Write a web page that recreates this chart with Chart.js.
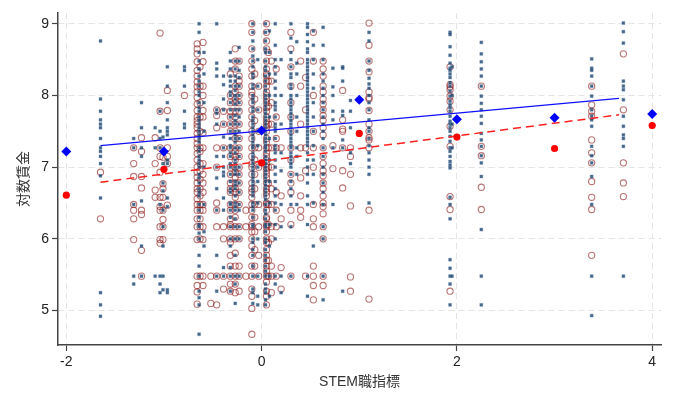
<!DOCTYPE html>
<html>
<head>
<meta charset="utf-8">
<script src="https://cdn.jsdelivr.net/npm/chart.js@4"></script>
<style>
  body { margin: 0; background: #fff; }
  #wrap { width: 680px; height: 400px; }
</style>
</head>
<body>
<div id="wrap"><canvas id="stemChart" width="680" height="400"></canvas></div>
<script>
// ---- data ----
const xTicks = [-2, 0, 2, 4];
const yTicks = [5, 6, 7, 8, 9];

// binned means
const meanX = [-2, -1, 0, 1, 2, 3, 4];
const blueMean = [7.22, 7.22, 7.51, 7.94, 7.67, 7.69, 7.74];
const redMean = [6.61, 6.97, 7.06, 7.47, 7.42, 7.26, 7.58];

// fitted lines (end points)
const fitX = [-1.65, 3.66];
const blueFitY = [7.30, 7.96];
const redFitY = [6.79, 7.73];

// individual observations, one column per STEM value: [x, [y...]]
const blueCols = [
    [-1.65, [8.76, 7.95, 7.78, 7.66, 7.6, 7.55, 7.4, 7.27, 7.22, 7.15, 7.05, 6.88, 6.57, 5.25, 5.08, 4.92]],
    [-1.31, [7.4, 7.27, 6.48, 5.48, 5.37]],
    [-1.23, [7.9, 7.55, 7.27, 7.15, 6.53, 5.48, 5.9]],
    [-1.09, [7.55, 7.27, 5.48]],
    [-1.04, [7.78, 7.5, 7.4, 7.27, 6.48, 5.48, 5.37, 5.25]],
    [-1.01, [7.42, 7.22, 7.05, 6.78, 6.67, 6.4, 6.17, 5.9, 5.48, 5.29]],
    [-0.965, [8.4, 8.13, 7.9, 7.66, 7.55, 7.5, 7.45, 7.1, 7.05, 6.57, 6.45, 5.29, 5.25]],
    [-0.79, [8.4, 8.35, 8.13, 7.78, 7.6, 7.55]],
    [-0.64, [9.0, 8.88, 8.6, 8.48, 8.37, 8.27, 8.2, 8.13, 8.05, 8.0, 7.9, 7.83, 7.78, 7.7, 7.65, 7.6, 7.55, 7.5, 7.45, 7.4, 7.35, 7.27, 7.22, 7.15, 7.1, 7.05, 7.0, 6.9, 6.85, 6.78, 6.7, 6.65, 6.6, 6.48, 6.4, 6.3, 6.2, 6.17, 6.08, 6.0, 5.77, 5.62, 5.48, 5.27, 5.18, 5.08, 4.67]],
    [-0.59, [8.6, 8.3, 7.9, 7.5, 7.0, 6.48, 6.1, 5.9]],
    [-0.46, [9.0, 8.45, 8.37, 8.27, 7.8, 7.75, 7.6, 7.15, 7.0, 6.85, 6.7, 6.4, 5.77, 5.48, 5.27]],
    [-0.39, [8.27, 8.15, 7.95, 7.8, 7.6, 7.42, 7.27, 7.15, 7.0, 6.93, 6.88, 6.57, 6.4, 5.6, 5.48]],
    [-0.32, [8.6, 8.48, 8.37, 8.27, 8.2, 8.13, 8.05, 8.0, 7.9, 7.8, 7.7, 7.6, 7.5, 7.4, 7.3, 7.27, 7.2, 7.15, 7.05, 7.0, 6.9, 6.8, 6.7, 6.65, 6.5, 6.48, 6.4, 6.3, 6.17, 6.0, 5.9, 5.6, 5.48, 5.27]],
    [-0.27, [8.48, 8.37, 8.27, 8.2, 8.13, 8.07, 8.0, 7.95, 7.88, 7.8, 7.72, 7.65, 7.6, 7.5, 7.45, 7.4, 7.35, 7.27, 7.2, 7.1, 7.05, 7.0, 6.95, 6.9, 6.8, 6.75, 6.7, 6.6, 6.5, 6.45, 6.4, 6.28, 6.17, 6.0, 5.77, 5.48, 5.37, 5.1]],
    [-0.23, [8.67, 8.48, 8.35, 8.25, 8.13, 8.0, 7.9, 7.8, 7.7, 7.6, 7.5, 7.4, 7.27, 7.15, 7.0, 6.9, 6.78, 6.65, 6.48, 6.4, 6.17, 6.0, 5.48]],
    [-0.09, [9.0, 8.88, 8.76, 8.65, 8.55, 8.48, 8.4, 8.3, 8.25, 8.15, 8.1, 8.0, 7.95, 7.9, 7.83, 7.78, 7.7, 7.65, 7.6, 7.55, 7.5, 7.45, 7.4, 7.35, 7.3, 7.27, 7.2, 7.15, 7.1, 7.05, 7.0, 6.95, 6.9, 6.85, 6.8, 6.75, 6.7, 6.65, 6.6, 6.5, 6.45, 6.4, 6.3, 6.2, 6.17, 6.0, 5.95, 5.85, 5.77, 5.62, 5.48, 5.3, 5.25, 5.1]],
    [-0.04, [8.5, 8.13, 7.8, 7.5, 7.3, 7.0, 6.8, 6.5, 6.0, 5.48, 5.2, 5.08]],
    [0.04, [9.0, 8.88, 8.76, 8.65, 8.6, 8.48, 8.4, 8.35, 8.27, 8.2, 8.13, 8.07, 8.0, 7.95, 7.9, 7.85, 7.8, 7.75, 7.7, 7.65, 7.6, 7.55, 7.5, 7.45, 7.4, 7.35, 7.3, 7.27, 7.22, 7.15, 7.1, 7.05, 7.0, 6.95, 6.9, 6.85, 6.8, 6.75, 6.7, 6.65, 6.6, 6.55, 6.48, 6.4, 6.35, 6.28, 6.2, 6.17, 6.1, 6.0, 5.95, 5.85, 5.77, 5.7, 5.62, 5.55, 5.48, 5.37, 5.3, 5.25, 5.15, 5.08]],
    [0.08, [8.9, 8.6, 8.3, 8.0, 7.7, 7.4, 7.1, 6.8, 6.5, 6.2, 5.9, 5.48, 5.2]],
    [0.14, [9.0, 8.7, 8.5, 8.4, 8.3, 8.2, 8.1, 8.0, 7.9, 7.85, 7.8, 7.7, 7.6, 7.55, 7.5, 7.4, 7.3, 7.25, 7.2, 7.1, 7.0, 6.9, 6.8, 6.7, 6.6, 6.5, 6.4, 6.2, 6.0, 5.48, 5.37]],
    [0.2, [8.5, 8.0, 7.6, 7.2, 6.95, 6.48, 6.17, 5.48, 5.25]],
    [0.3, [9.0, 8.8, 8.6, 8.5, 8.4, 8.3, 8.25, 8.15, 8.1, 8.0, 7.95, 7.9, 7.85, 7.8, 7.75, 7.7, 7.65, 7.6, 7.55, 7.5, 7.45, 7.4, 7.35, 7.3, 7.27, 7.2, 7.15, 7.1, 7.05, 7.0, 6.9, 6.8, 6.7, 6.6, 6.48, 6.17, 5.48]],
    [0.36, [8.75, 8.45, 8.3, 8.0, 7.7, 7.5, 7.27, 7.15, 6.9, 6.48]],
    [0.47, [9.0, 8.95, 8.85, 8.75, 8.65, 8.6, 8.5, 8.45, 8.4, 8.35, 8.3, 8.25, 8.2, 8.15, 8.1, 8.05, 8.0, 7.95, 7.9, 7.85, 7.8, 7.75, 7.7, 7.65, 7.6, 7.55, 7.5, 7.45, 7.4, 7.35, 7.3, 7.2, 7.1, 7.0, 6.9, 6.78, 6.6, 6.48, 6.2, 5.48, 5.2]],
    [0.53, [8.9, 8.7, 8.5, 8.3, 8.1, 7.9, 7.7, 7.5, 7.3, 7.1, 6.9, 6.5, 5.9]],
    [0.63, [8.95, 8.7, 8.5, 8.3, 8.2, 8.1, 8.0, 7.9, 7.8, 7.7, 7.6, 7.5, 7.4, 7.27, 7.15, 7.0, 6.9, 6.78, 6.65, 6.48, 6.17, 6.0, 5.48, 5.15]],
    [0.73, [8.38, 8.12, 8.0, 7.78, 7.66, 7.27, 6.48]],
    [0.83, [8.4, 8.38, 8.2, 7.78, 7.72, 7.38, 7.27, 5.27]],
    [0.91, [7.93, 7.78, 7.55, 7.2, 7.05]],
    [1.1, [8.88, 8.76, 8.48, 8.35, 8.24, 8.16, 8.1, 8.0, 7.9, 7.8, 7.66, 7.55, 7.5, 7.4, 7.3, 7.2, 7.1, 7.0, 6.9, 6.5]],
    [1.93, [8.88, 8.85, 8.68, 8.56, 8.45, 8.38, 8.35, 8.3, 8.25, 8.18, 8.13, 8.06, 7.99, 7.92, 7.87, 7.83, 7.78, 7.71, 7.64, 7.6, 7.55, 7.5, 7.43, 7.36, 7.27, 7.22, 7.15, 7.08, 7.03, 6.99, 6.58, 6.48, 6.28, 5.71, 5.59, 5.48, 5.37, 5.08]],
    [1.95, [8.4, 8.0, 7.6, 7.27, 5.48]],
    [2.25, [8.74, 8.58, 8.47, 8.37, 8.27, 8.13, 7.99, 7.89, 7.8, 7.71, 7.61, 7.47, 7.38, 7.29, 7.16, 7.06, 6.87, 6.13, 5.48, 5.08]],
    [3.38, [8.51, 8.38, 8.35, 8.27, 8.13, 7.99, 7.8, 7.71, 7.66, 7.57, 7.29, 7.16, 7.06, 6.87, 6.48, 5.48, 4.93]],
    [3.705, [9.01, 8.89, 8.73, 8.2, 8.13, 8.08, 7.94, 7.71, 7.57, 7.45, 7.4, 7.29, 5.48]]
];

const redCols = [
    [-1.65, [6.93, 6.28]],
    [-1.31, [7.27, 7.05, 6.87, 6.48, 6.4, 6.28, 5.99]],
    [-1.23, [7.41, 7.22, 6.87, 6.71, 6.4, 6.34, 5.84, 5.48]],
    [-1.09, [7.41, 7.05, 6.68, 6.58]],
    [-1.04, [8.87, 7.78, 7.27, 7.15, 6.93, 6.58, 6.45, 6.4, 6.17, 5.99, 5.94]],
    [-1.01, [7.14, 6.77, 6.7, 6.58, 6.4, 6.27, 6.17, 5.99]],
    [-0.965, [8.07, 7.79, 7.27, 7.15, 7.05, 6.47]],
    [-0.79, [8.0]],
    [-0.66, [8.72, 8.65, 8.58, 8.47, 8.35, 8.27, 8.19, 8.12, 8.05, 7.97, 7.88, 7.79, 7.7, 7.65, 7.6, 7.55, 7.47, 7.4, 7.33, 7.27, 7.19, 7.1, 7.0, 6.93, 6.86, 6.78, 6.7, 6.65, 6.56, 6.48, 6.4, 6.28, 6.17, 5.99, 5.48, 5.35, 5.26, 5.09]],
    [-0.63, [8.4, 8.13, 7.9, 7.7, 7.5, 7.27, 7.22, 7.05, 6.95, 6.83, 6.7, 6.6, 6.48, 6.4, 6.28, 6.17, 6.0, 5.48]],
    [-0.6, [8.74, 8.47, 8.13, 8.0, 7.79, 7.7, 7.48, 7.27, 7.05, 6.9, 6.78, 6.65, 6.48, 6.4, 6.17, 5.99, 5.48, 5.35]],
    [-0.52, [5.48, 5.1]],
    [-0.46, [7.8, 7.72, 7.55, 7.27, 7.0, 6.5, 6.4, 6.17, 5.48, 5.08]],
    [-0.39, [7.78, 7.6, 7.27, 6.17, 6.0, 5.48, 5.3]],
    [-0.32, [8.3, 8.0, 7.9, 7.78, 7.7, 7.6, 7.5, 7.27, 7.15, 7.0, 6.9, 6.78, 6.7, 6.65, 6.48, 6.4, 6.28, 6.2, 6.17, 6.0, 5.95, 5.77, 5.62, 5.48, 5.37, 5.27]],
    [-0.27, [8.65, 8.48, 8.37, 8.13, 8.05, 7.95, 7.9, 7.78, 7.7, 7.6, 7.5, 7.4, 7.27, 7.22, 7.15, 7.1, 7.0, 6.93, 6.86, 6.78, 6.7, 6.65, 6.58, 6.48, 6.4, 6.3, 6.17, 6.0, 5.8, 5.62, 5.48, 5.37, 5.25]],
    [-0.23, [8.48, 8.27, 8.2, 8.13, 8.0, 7.9, 7.78, 7.6, 7.4, 7.27, 7.15, 7.0, 6.9, 6.78, 6.65, 6.48, 6.17, 6.0, 5.62, 5.48, 5.27]],
    [-0.16, [6.4, 6.17, 5.48]],
    [-0.1, [9.0, 8.88, 8.65, 8.48, 8.37, 8.27, 8.13, 8.05, 8.0, 7.9, 7.8, 7.7, 7.6, 7.5, 7.4, 7.27, 7.15, 7.05, 7.0, 6.9, 6.78, 6.7, 6.65, 6.58, 6.48, 6.4, 6.3, 6.2, 6.17, 6.1, 6.0, 5.9, 5.77, 5.62, 5.48, 5.3, 5.2, 5.03, 4.67]],
    [-0.07, [8.3, 7.95, 7.65, 7.27, 7.1, 6.9, 6.7, 6.48, 6.3, 6.1, 5.85, 5.62]],
    [-0.03, [8.13, 7.8, 7.5, 7.27, 7.0, 6.48, 6.17, 5.77, 5.48]],
    [0.05, [9.0, 8.88, 8.76, 8.65, 8.48, 8.37, 8.3, 8.27, 8.2, 8.13, 8.05, 8.0, 7.95, 7.9, 7.83, 7.78, 7.7, 7.65, 7.6, 7.55, 7.5, 7.4, 7.35, 7.27, 7.2, 7.15, 7.1, 7.05, 7.0, 6.95, 6.9, 6.85, 6.78, 6.7, 6.65, 6.6, 6.5, 6.48, 6.4, 6.3, 6.28, 6.2, 6.17, 6.1, 6.0, 5.95, 5.85, 5.77, 5.7, 5.62, 5.55, 5.48, 5.4, 5.27, 5.2, 5.08]],
    [0.07, [8.6, 8.2, 7.85, 7.6, 7.27, 7.0, 6.78, 6.48, 6.2, 5.95, 5.7, 5.48]],
    [0.1, [8.48, 8.2, 7.9, 7.6, 7.27, 7.0, 6.7, 6.48, 6.17, 6.0, 5.62, 5.48, 5.25]],
    [0.15, [8.37, 7.7, 7.4, 7.27, 6.65, 6.4, 6.17, 5.48]],
    [0.2, [7.27, 6.6, 6.28, 5.6, 5.3]],
    [0.3, [8.88, 8.65, 8.4, 8.13, 7.9, 7.7, 7.5, 7.27, 7.1, 6.9, 6.78, 6.65, 6.4, 6.2, 5.48]],
    [0.4, [8.48, 8.13, 7.6, 7.27, 6.85, 6.6, 6.4, 6.3]],
    [0.45, [8.25, 7.8, 7.27, 6.95, 5.48]],
    [0.53, [8.88, 8.48, 8.0, 7.5, 7.27, 7.0, 6.48, 6.28, 6.17, 5.62, 5.48, 5.35, 5.15]],
    [0.63, [8.48, 8.37, 8.27, 8.13, 8.05, 7.95, 7.88, 7.8, 7.72, 7.65, 7.55, 7.45, 7.27, 7.15, 7.05, 6.95, 6.88, 6.78, 6.7, 6.6, 6.5, 6.45, 6.35, 6.17, 6.0, 5.48, 5.35]],
    [0.73, [7.3, 6.98]],
    [0.83, [8.07, 7.66, 7.53, 7.5, 7.27, 6.95, 6.71]],
    [0.91, [7.27, 7.15, 6.9, 6.46, 5.47, 5.27]],
    [1.1, [9.01, 8.7, 8.48, 8.33, 8.05, 7.97, 7.95, 7.79, 7.6, 7.5, 7.41, 7.38, 7.27, 6.4, 5.16]],
    [1.93, [8.4, 8.15, 8.12, 8.08, 7.99, 7.92, 7.8, 7.57, 7.29, 6.59, 6.41, 5.27]],
    [2.25, [8.13, 7.29, 7.16, 6.72, 6.41]],
    [3.38, [8.13, 7.87, 7.78, 7.71, 7.38, 7.2, 7.06, 6.8, 6.58, 6.41, 5.77]],
    [3.705, [8.58, 7.8, 7.06, 6.78, 6.59]]
];

const toPoints = cols => cols.flatMap(([x, ys]) => ys.map(y => ({ x: x, y: y })));
const zipXY = (xs, ys) => xs.map((x, i) => ({ x: x, y: ys[i] }));

const FONT = "'Liberation Sans', 'Noto Sans CJK JP', Arial, sans-serif";

const ctx = document.getElementById('stemChart').getContext('2d');
new Chart(ctx, {
    type: 'scatter',
    data: {
        datasets: [
            {
                label: 'obs2',
                data: toPoints(redCols),
                pointStyle: 'circle',
                pointRadius: 3.1,
                backgroundColor: 'rgba(0,0,0,0)',
                borderColor: 'rgba(140,25,25,0.6)',
                borderWidth: 1.1,
                order: 6
            },
            {
                label: 'obs1',
                data: toPoints(blueCols),
                pointStyle: 'rect',
                pointRadius: 2.1,
                backgroundColor: 'rgba(25,65,105,0.8)',
                borderColor: 'rgba(90,130,170,0.45)',
                borderWidth: 0.8,
                order: 5
            },
            {
                type: 'line',
                label: 'fit1',
                data: zipXY(fitX, blueFitY),
                borderColor: '#1010ff',
                borderWidth: 1.3,
                pointRadius: 0,
                fill: false,
                order: 4
            },
            {
                type: 'line',
                label: 'fit2',
                data: zipXY(fitX, redFitY),
                borderColor: '#ff2020',
                borderWidth: 1.5,
                borderDash: [8, 5],
                pointRadius: 0,
                fill: false,
                order: 3
            },
            {
                label: 'mean1',
                data: zipXY(meanX, blueMean),
                pointStyle: 'rectRot',
                pointRadius: 5,
                backgroundColor: '#0000ff',
                borderColor: '#0000ff',
                borderWidth: 0,
                order: 2
            },
            {
                label: 'mean2',
                data: zipXY(meanX, redMean),
                pointStyle: 'circle',
                pointRadius: 3.6,
                backgroundColor: '#ff0000',
                borderColor: '#ff0000',
                borderWidth: 0,
                order: 1
            }
        ]
    },
    options: {
        responsive: false,
        animation: false,
        devicePixelRatio: 1,
        layout: { padding: { top: 13, right: 19, left: 0, bottom: 0 } },
        plugins: {
            legend: { display: false },
            tooltip: { enabled: false }
        },
        scales: {
            x: {
                type: 'linear',
                min: -2.085,
                max: 4.09,
                afterFit: scale => { scale.height = 55; },
                afterBuildTicks: scale => { scale.ticks = xTicks.map(v => ({ value: v })); },
                ticks: {
                    includeBounds: false,
                    color: '#222',
                    padding: 3,
                    font: { family: FONT, size: 14 }
                },
                grid: {
                    color: '#e4e4e4',
                    lineWidth: 1,
                    tickLength: 6,
                    tickColor: '#444',
                    tickWidth: 1.2
                },
                border: { display: true, color: '#444', width: 1.5, dash: [6, 4] },
                title: {
                    display: true,
                    text: 'STEM職指標',
                    color: '#333',
                    font: { family: FONT, size: 14 },
                    padding: { top: 0, bottom: 9 }
                }
            },
            y: {
                type: 'linear',
                min: 4.52,
                max: 9.15,
                afterFit: scale => { scale.width = 58; },
                afterBuildTicks: scale => { scale.ticks = yTicks.map(v => ({ value: v })); },
                ticks: {
                    includeBounds: false,
                    color: '#222',
                    padding: 3,
                    font: { family: FONT, size: 14 }
                },
                grid: {
                    color: '#e4e4e4',
                    lineWidth: 1,
                    tickLength: 6,
                    tickColor: '#444',
                    tickWidth: 1.2
                },
                border: { display: true, color: '#444', width: 1.5, dash: [6, 4] },
                title: {
                    display: true,
                    text: '対数賃金',
                    color: '#333',
                    font: { family: FONT, size: 14 },
                    padding: { top: 16, bottom: 0 }
                }
            }
        }
    }
});
</script>
</body>
</html>
